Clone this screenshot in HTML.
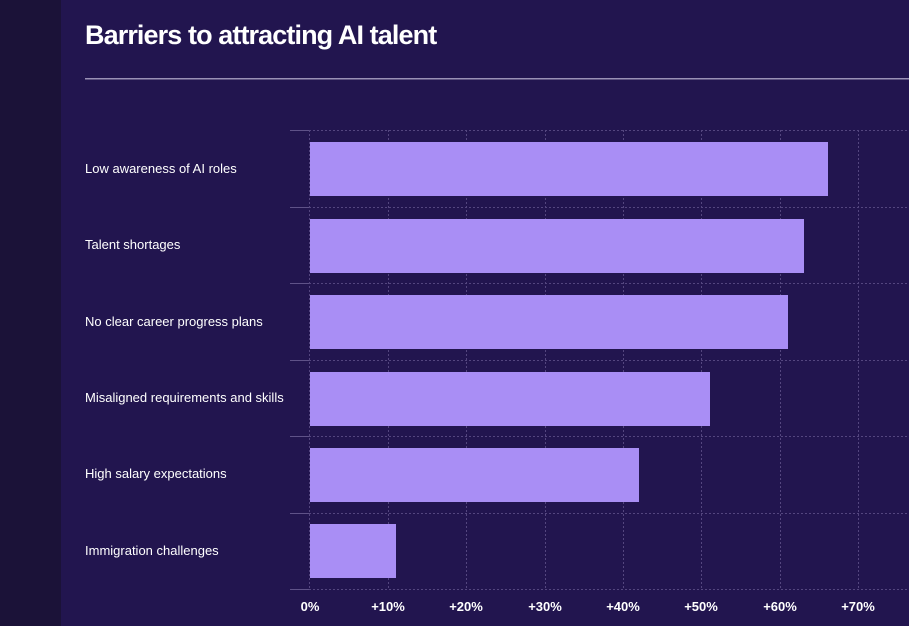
<!DOCTYPE html><html><head><style>body{margin:0;width:909px;height:626px;overflow:hidden;background:#22154f;font-family:"Liberation Sans",sans-serif}</style></head><body>
<svg width="909" height="626" xmlns="http://www.w3.org/2000/svg" style="position:absolute;left:0;top:0">
<rect x="0" y="0" width="909" height="626" fill="#22154f"/>
<rect x="0" y="0" width="61" height="626" fill="#1b1238"/>
<text x="85" y="44" fill="#fff" font-size="27" font-weight="bold" letter-spacing="-0.9">Barriers to attracting AI talent</text>
<rect x="85" y="78" width="824" height="1.5" fill="#9a91b6"/>
<g stroke="#54467f" stroke-width="1" stroke-dasharray="2,2">
<line x1="309.5" y1="130" x2="309.5" y2="589"/><line x1="388.5" y1="130" x2="388.5" y2="589"/><line x1="466.5" y1="130" x2="466.5" y2="589"/><line x1="545.5" y1="130" x2="545.5" y2="589"/><line x1="623.5" y1="130" x2="623.5" y2="589"/><line x1="701.5" y1="130" x2="701.5" y2="589"/><line x1="780.5" y1="130" x2="780.5" y2="589"/><line x1="858.5" y1="130" x2="858.5" y2="589"/>
<line x1="309" y1="130.5" x2="909" y2="130.5"/><line x1="309" y1="207.5" x2="909" y2="207.5"/><line x1="309" y1="283.5" x2="909" y2="283.5"/><line x1="309" y1="360.5" x2="909" y2="360.5"/><line x1="309" y1="436.5" x2="909" y2="436.5"/><line x1="309" y1="513.5" x2="909" y2="513.5"/><line x1="309" y1="589.5" x2="909" y2="589.5"/>
</g>
<g stroke="#5f5288" stroke-width="1">
<line x1="290" y1="130.5" x2="309" y2="130.5"/><line x1="290" y1="207.5" x2="309" y2="207.5"/><line x1="290" y1="283.5" x2="309" y2="283.5"/><line x1="290" y1="360.5" x2="309" y2="360.5"/><line x1="290" y1="436.5" x2="309" y2="436.5"/><line x1="290" y1="513.5" x2="309" y2="513.5"/><line x1="290" y1="589.5" x2="309" y2="589.5"/>
</g>
<g fill="#a98ef5">
<rect x="310" y="142" width="518" height="54"/><rect x="310" y="219" width="494" height="54"/><rect x="310" y="295" width="478" height="54"/><rect x="310" y="372" width="400" height="54"/><rect x="310" y="448" width="329" height="54"/><rect x="310" y="524" width="86" height="54"/>
</g>
<g fill="#fff" font-size="13">
<text x="85" y="173">Low awareness of AI roles</text><text x="85" y="249">Talent shortages</text><text x="85" y="326">No clear career progress plans</text><text x="85" y="402">Misaligned requirements and skills</text><text x="85" y="478">High salary expectations</text><text x="85" y="555">Immigration challenges</text>
</g>
<g fill="#fff" font-size="13" font-weight="bold" text-anchor="middle">
<text x="310" y="611">0%</text><text x="388" y="611">+10%</text><text x="466" y="611">+20%</text><text x="545" y="611">+30%</text><text x="623" y="611">+40%</text><text x="701" y="611">+50%</text><text x="780" y="611">+60%</text><text x="858" y="611">+70%</text>
</g>
</svg></body></html>
